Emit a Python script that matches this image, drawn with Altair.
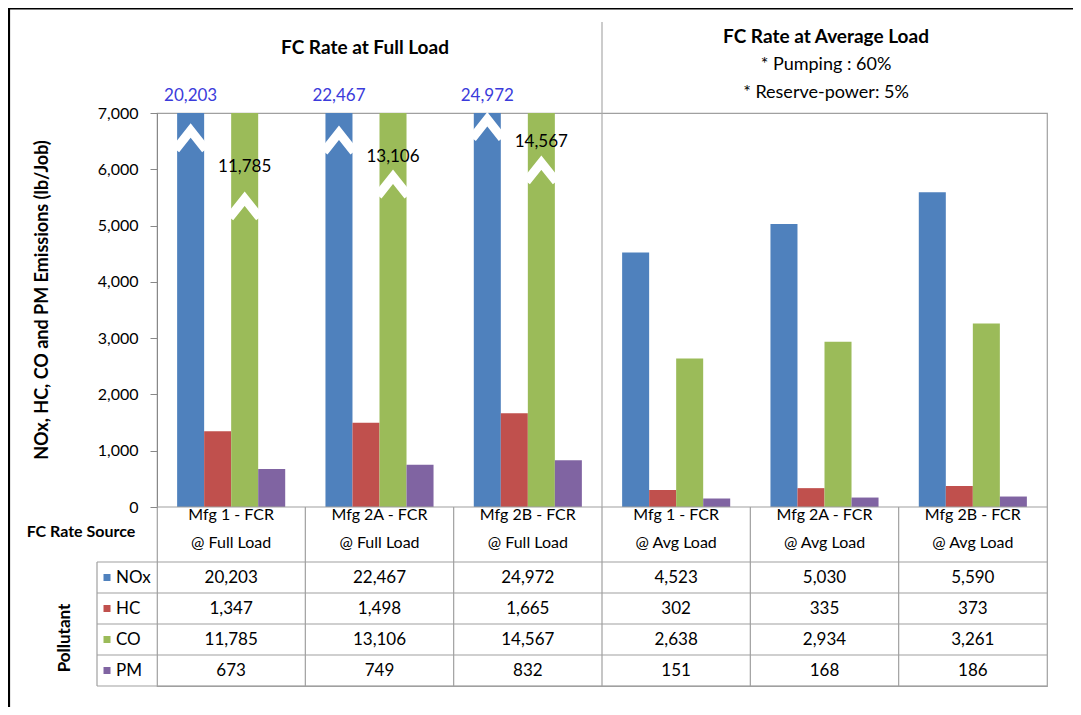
import altair as alt
import pandas as pd

# ---------------- data ----------------
cat_line1 = ["Mfg 1 - FCR", "Mfg 2A - FCR", "Mfg 2B - FCR",
             "Mfg 1 - FCR", "Mfg 2A - FCR", "Mfg 2B - FCR"]
cat_line2 = ["@ Full Load", "@ Full Load", "@ Full Load",
             "@ Avg Load", "@ Avg Load", "@ Avg Load"]
pollutants = ["NOx", "HC", "CO", "PM"]
nox = [20203, 22467, 24972, 4523, 5030, 5590]
hc = [1347, 1498, 1665, 302, 335, 373]
co = [11785, 13106, 14567, 2638, 2934, 3261]
pm = [673, 749, 832, 151, 168, 186]
colors = ["#4F81BD", "#C0504D", "#9BBB59", "#8064A2"]
y_ticks = [0, 1000, 2000, 3000, 4000, 5000, 6000, 7000]
axis_max = 7000

# where the white "break" chevrons sit on bars that exceed the axis
break_cat = [0, 1, 2, 0, 1, 2]
break_pol = ["NOx", "NOx", "NOx", "CO", "CO", "CO"]
break_at = [6520, 6480, 6720, 5310, 5700, 5950]
# height at which the CO value labels are written on the broken CO bars
co_label_cat = [0, 1, 2]
co_label_at = [6040, 6220, 6480]

title_full = "FC Rate at Full Load"
title_avg = ["FC Rate at Average Load", "* Pumping : 60%", "* Reserve-power: 5%"]
y_title = "NOx, HC, CO and PM Emissions (lb/Job)"

# ---------------- tables ----------------
categories = [f"{a}\n{b}" for a, b in zip(cat_line1, cat_line2)]
series = {"NOx": nox, "HC": hc, "CO": co, "PM": pm}
rows = []
for p in pollutants:
    for c, v in zip(categories, series[p]):
        rows.append({"category": c, "pollutant": p, "value": v})
df = pd.DataFrame(rows)
df_cat = pd.DataFrame({"category": categories})
df_pol = pd.DataFrame({"pollutant": pollutants})
df_break = pd.DataFrame({"category": [categories[i] for i in break_cat],
                         "pollutant": break_pol, "value": break_at})
df_colab = pd.DataFrame({"category": [categories[i] for i in co_label_cat],
                         "pollutant": "CO", "value": co_label_at,
                         "label": [f"{co[i]:,}" for i in co_label_cat]})
one = pd.DataFrame({"k": [0]})

W, H = 890, 573
PLOT_H = 394          # height of the bar area
HEAD_H = 449          # bottom of table header row
FONT = "Lato"
GRAY = "#A0A0A0"

x_scale = alt.Scale(domain=categories, paddingInner=0, paddingOuter=0)
X = alt.X("category:N", sort=categories, scale=x_scale, axis=None)
X0 = alt.X("category:N", sort=categories, scale=x_scale, axis=None, bandPosition=0)
XO = alt.XOffset("pollutant:N", sort=pollutants,
                 scale=alt.Scale(domain=pollutants, paddingInner=0, paddingOuter=0.745))
Y = alt.Y("value:Q",
          scale=alt.Scale(domain=[0, axis_max], range=[PLOT_H, 0], clamp=True, nice=False),
          axis=alt.Axis(values=y_ticks, labelExpr="format(datum.value, ',')",
                        title=None, grid=False, tickSize=7,
                        labelPadding=12, labelFont=FONT, labelFontSize=16,
                        labelColor="black", tickColor="#888888", domainColor="#888888"))
C = alt.Color("pollutant:N", scale=alt.Scale(domain=pollutants, range=colors), legend=None)

row_scale = alt.Scale(domain=pollutants, range=[HEAD_H, H], paddingInner=0, paddingOuter=0)
YR = alt.Y("pollutant:N", sort=pollutants, scale=row_scale, axis=None)
YR0 = alt.Y("pollutant:N", sort=pollutants, scale=row_scale, axis=None, bandPosition=0)

# ---------------- value group ----------------
bars = alt.Chart(df).mark_bar().encode(x=X, xOffset=XO, y=Y, color=C)

breaks = alt.Chart(df_break).mark_point(
    shape="M-1,0.63L0,-0.63L1,0.63", size=900, filled=False, stroke="white",
    strokeWidth=9, opacity=1, strokeJoin="miter", strokeCap="butt"
).encode(x=X, xOffset=XO, y=Y)

co_labels = alt.Chart(df_colab).mark_text(
    font=FONT, fontSize=17, color="black", baseline="middle"
).encode(x=X, xOffset=XO, y=Y, text="label:N")

nox_labels = alt.Chart(df).transform_filter(
    (alt.datum.pollutant == "NOx") & (alt.datum.value > axis_max)
).mark_text(font=FONT, fontSize=17, color="#3B3BDB", baseline="middle").encode(
    x=X, xOffset=XO, y=alt.value(-17), text=alt.Text("value:Q", format=",")
)

value_group = alt.layer(bars, breaks, co_labels, nox_labels)

# ---------------- table group ----------------
header = alt.Chart(df_cat).mark_text(
    font=FONT, fontSize=16, color="black", lineBreak="\n", lineHeight=28, baseline="middle"
).encode(x=X, y=alt.value(402), text="category:N")

cells = alt.Chart(df).mark_text(font=FONT, fontSize=17, color="black", baseline="middle").encode(
    x=X, y=YR, text=alt.Text("value:Q", format=",")
)

h_lines = alt.Chart(df_pol).mark_rule(color=GRAY, strokeWidth=1.2).encode(
    y=YR0, x=alt.value(-60), x2=alt.value(W)
)
bottom_line = alt.Chart(one).mark_rule(color=GRAY, strokeWidth=1.2).encode(
    y=alt.value(H), x=alt.value(-60), x2=alt.value(W)
)
axis_line = alt.Chart(one).mark_rule(color=GRAY, strokeWidth=1.2).encode(
    y=alt.value(PLOT_H), x=alt.value(0), x2=alt.value(W)
)
v_lines = alt.Chart(df_cat.iloc[1:]).mark_rule(color=GRAY, strokeWidth=1.2).encode(
    x=X0, y=alt.value(PLOT_H), y2=alt.value(H)
)
divider = alt.Chart(df_cat.iloc[3:4]).mark_rule(color="#AAAAAA", strokeWidth=1.2).encode(
    x=X0, y=alt.value(-91), y2=alt.value(PLOT_H)
)
legend_left = alt.Chart(one).mark_rule(color=GRAY, strokeWidth=1.2).encode(
    x=alt.value(-60), y=alt.value(HEAD_H), y2=alt.value(H)
)
legend_sq = alt.Chart(df_pol).mark_square(size=49, opacity=1).encode(
    x=alt.value(-50), y=YR, color=C
)
legend_tx = alt.Chart(df_pol).mark_text(
    font=FONT, fontSize=17, color="black", align="left", baseline="middle"
).encode(x=alt.value(-41), y=YR, text="pollutant:N")

table_group = alt.layer(header, cells, h_lines, bottom_line, axis_line, v_lines,
                        divider, legend_left, legend_sq, legend_tx)

# ---------------- free text & frame ----------------
def label(text, x, y, size, bold=False, angle=None):
    kw = dict(text=text, font=FONT, fontSize=size, color="black",
              fontWeight="bold" if bold else "normal", align="center", baseline="middle")
    if angle is not None:
        kw["angle"] = angle
    return alt.Chart(one).mark_text(**kw).encode(x=alt.value(x), y=alt.value(y))

texts = [
    label(title_full, 208, -65, 19, bold=True),
    label(title_avg[0], 669, -76, 19, bold=True),
    label(title_avg[1], 669, -48, 18),
    label(title_avg[2], 669, -20, 18),
    label(y_title, -114, 187, 18, bold=True, angle=270),
    label("FC Rate Source", -76, 419, 16, bold=True),
    label("Pollutant", -92, 525, 17, bold=True, angle=270),
]
frame_left = alt.Chart(one).mark_rule(color="black", strokeWidth=2.2).encode(
    x=alt.value(-148), y=alt.value(-106), y2=alt.value(H + 30)
)
frame_top = alt.Chart(one).mark_rule(color="black", strokeWidth=2.2).encode(
    y=alt.value(-104.5), x=alt.value(-149), x2=alt.value(W + 40)
)
free_group = alt.layer(frame_left, frame_top, *texts)

chart = alt.layer(value_group, table_group, free_group).resolve_scale(
    y="independent"
).properties(
    width=W, height=H,
    padding={"left": 149, "top": 105, "right": 26, "bottom": 21},
    autosize=alt.AutoSizeParams(type="none"),
).configure(font=FONT).configure_view(stroke=GRAY, strokeWidth=1.2)

chart.save("out.html", embed_options={"renderer": "svg", "actions": False})
